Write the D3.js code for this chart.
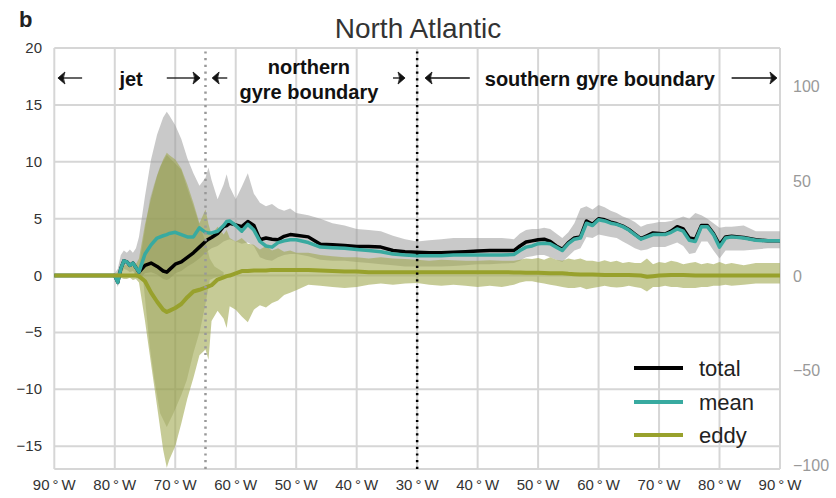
<!DOCTYPE html>
<html>
<head>
<meta charset="utf-8">
<script src="https://cdn.jsdelivr.net/npm/d3@7"></script>
<style>
body { margin: 0; background: #fff; }
text { font-family: "Liberation Sans", Arial, sans-serif; }
</style>
</head>
<body>
<div id="chart"></div>
<script>
// along-track position (0..120, ticks every 10)
var xs = [
  0, 9, 10, 10.5, 11, 11.5, 12, 12.5, 13, 13.5,
  14, 15, 16, 17, 18, 18.6, 19, 20, 21, 22,
  23, 24, 25, 25.5, 26, 27, 28, 28.5, 29, 30,
  31, 32, 33, 34, 35, 36, 37, 38, 39, 40,
  42, 44, 46, 48, 50, 52, 54, 56, 58, 60,
  62, 64, 66, 68, 70, 72, 74, 76, 77, 78,
  79, 80, 81, 82, 83, 84, 85, 86, 87, 88,
  89, 90, 91, 92, 93, 94, 95, 96, 97, 98,
  99, 100, 101, 102, 103, 104, 105, 106, 107, 108,
  109, 110, 111, 112, 114, 116, 118, 120
];
var total = [
  0, 0, 0, -0.6, 0.6, 1.3, 1.2, 0.9, 1.1, 0.7,
  0.3, 0.9, 1.1, 0.8, 0.4, 0.3, 0.5, 1.0, 1.2, 1.6,
  2.0, 2.5, 3.0, 3.2, 3.35, 3.7, 4.3, 4.4, 4.6, 4.45,
  4.3, 4.75, 4.4, 3.15, 3.3, 3.2, 3.15, 3.45, 3.6, 3.55,
  3.4, 2.75, 2.7, 2.65, 2.55, 2.55, 2.5, 2.2, 2.1, 2.05,
  2.0, 2.0, 2.05, 2.1, 2.15, 2.2, 2.2, 2.2, 2.6, 2.95,
  3.05, 3.15, 3.2, 3.0, 2.6, 2.3, 2.9, 3.3, 3.4, 4.8,
  4.5, 5.0, 4.9, 4.7, 4.55, 4.35, 4.05, 3.65, 3.25, 3.5,
  3.75, 3.7, 3.65, 3.9, 4.3, 4.1, 3.3, 3.2, 4.4, 4.4,
  3.7, 2.7, 3.4, 3.45, 3.35, 3.15, 3.05, 3.05
];
var mean = [
  0, 0, 0, -0.6, 0.6, 1.3, 1.2, 0.9, 1.1, 0.7,
  0.3, 1.9, 2.7, 3.3, 3.5, 3.6, 3.7, 3.8, 3.6, 3.4,
  3.4, 4.2, 3.8, 3.75, 3.75, 3.9, 4.4, 4.75, 4.8, 4.4,
  3.9, 4.5, 4.0, 3.0, 2.6, 2.5, 2.9, 3.05, 3.15, 3.15,
  2.9, 2.5, 2.45, 2.4, 2.3, 2.2, 2.1, 1.9, 1.8, 1.75,
  1.75, 1.75, 1.8, 1.8, 1.8, 1.8, 1.8, 1.85, 2.2, 2.5,
  2.6, 2.8, 2.85, 2.8, 2.5, 2.2, 2.8, 3.2, 3.3, 4.6,
  4.4, 4.9, 4.8, 4.6, 4.5, 4.3, 4.0, 3.6, 3.2, 3.4,
  3.6, 3.6, 3.6, 3.8, 4.1, 3.9, 3.1, 3.0, 4.3, 4.3,
  3.6, 2.5, 3.3, 3.4, 3.3, 3.1, 3.05, 3.05
];
var eddy = [
  0, 0, 0, 0, 0, 0, 0, 0, 0, 0,
  -0.05, -0.5, -1.5, -2.3, -3.0, -3.2, -3.1, -2.85, -2.5, -1.9,
  -1.4, -1.25, -1.05, -0.95, -0.85, -0.35, -0.15, -0.05, 0.0, 0.2,
  0.4, 0.4, 0.45, 0.45, 0.45, 0.5, 0.5, 0.5, 0.5, 0.5,
  0.5, 0.45, 0.4, 0.35, 0.35, 0.3, 0.3, 0.3, 0.3, 0.3,
  0.3, 0.3, 0.3, 0.3, 0.3, 0.3, 0.3, 0.28, 0.27, 0.25,
  0.25, 0.25, 0.22, 0.2, 0.2, 0.2, 0.15, 0.12, 0.1, 0.1,
  0.1, 0.08, 0.05, 0.05, 0.05, 0.05, 0.05, 0.03, 0.0, -0.1,
  -0.05, 0.0, 0.02, 0.05, 0.05, 0.05, 0.02, 0.0, 0.0, 0.0,
  0.0, 0.0, 0.0, 0.0, 0.0, 0.0, 0.0, 0.0
];
// spread of total (grey)
var totalHi = [
  0, 0, 0.2, 0.6, 1.8, 2.2, 2.0, 2.3, 2.0, 2.4,
  3.4, 7.0, 10.2, 12.4, 13.9, 14.4, 14.1, 13.2, 12.0, 10.3,
  9.0, 7.9, 8.6, 9.5, 8.4, 6.7, 8.0, 8.9, 7.8, 6.7,
  7.8, 9.0, 7.2, 6.4, 6.1, 6.3, 5.9, 5.7, 5.9, 5.5,
  5.3, 5.0, 4.6, 4.4, 4.1, 4.0, 3.9, 3.5, 3.2, 3.0,
  3.1, 3.2, 3.3, 3.3, 3.3, 3.3, 3.3, 3.2, 3.7, 4.0,
  4.1, 4.1, 4.2, 4.1, 3.7, 3.3, 3.8, 4.6, 5.9, 6.1,
  5.8, 6.2, 6.0, 5.7, 5.5, 5.2, 5.0, 4.7, 4.3, 4.5,
  4.6, 4.7, 4.7, 4.8, 5.0, 5.2, 5.0, 5.5, 5.3, 5.0,
  4.6, 4.2, 4.3, 4.3, 4.4, 3.9, 3.9, 3.9
];
var totalLo = [
  0, 0, -0.2, -1.0, 0, 0.6, 0.5, 0.3, 0.4, 0.1,
  -0.3, 0.2, 0.3, 0.1, -0.3, -0.4, -0.3, 0.2, 0.4, 0.8,
  1.1, 1.5, 2.0, 2.2, 2.4, 2.6, 3.0, 3.1, 3.2, 3.0,
  2.8, 2.9, 2.6, 1.6, 1.4, 1.3, 1.6, 1.8, 1.9, 1.9,
  1.7, 1.4, 1.3, 1.3, 1.2, 1.1, 1.0, 0.9, 0.8, 0.8,
  0.8, 0.8, 0.85, 0.9, 1.0, 1.0, 1.05, 1.1, 1.3, 1.6,
  1.7, 1.8, 1.8, 1.6, 1.4, 1.2, 1.7, 2.2, 2.4, 3.4,
  3.3, 3.6, 3.5, 3.4, 3.3, 3.0, 2.7, 2.4, 2.2, 2.3,
  2.5, 2.5, 2.5, 2.7, 2.9, 2.6, 1.9, 2.0, 3.0, 3.0,
  2.2, 1.5, 2.2, 2.2, 2.2, 2.3, 2.4, 2.4
];
// spread of eddy (light olive)
var eddyHi = [
  0, 0, 0.1, 0.3, 0.8, 1.0, 0.9, 1.1, 0.8, 1.0,
  1.5, 4.5, 6.8, 8.8, 10.2, 10.8, 10.6, 10.2, 9.4, 8.0,
  6.4, 4.6, 5.8, 4.5, 3.6, 4.3, 3.6, 4.0, 3.3, 3.0,
  3.3, 2.8, 2.7, 2.3, 2.6, 2.2, 2.4, 2.1, 2.2, 2.0,
  2.0, 1.8, 1.7, 1.6, 1.6, 1.5, 1.6, 1.5, 1.45, 1.4,
  1.3, 1.4, 1.35, 1.3, 1.3, 1.35, 1.3, 1.3, 1.4, 1.5,
  1.45, 1.55, 1.4, 1.6, 1.4, 1.3, 1.5, 1.4, 1.5, 1.3,
  1.3, 1.2, 1.35, 1.2, 1.3, 1.1, 1.2, 1.1, 1.1, 1.5,
  1.0, 1.2, 1.1, 1.3, 1.2, 1.0, 1.1, 1.2, 1.0, 1.1,
  1.0, 1.2, 1.0, 1.1, 0.9, 1.1, 1.1, 1.1
];
var eddyLo = [
  0, 0, -0.1, -0.3, -0.2, -0.3, -0.3, -0.2, -0.4, -0.3,
  -0.6, -4.0, -7.8, -11.5, -15.3, -16.9, -16.2, -15.0, -13.0, -10.8,
  -9.0, -7.0, -6.5, -7.4, -4.0, -3.1, -3.8, -4.6, -2.7, -3.0,
  -3.6, -4.1, -3.0, -2.6, -2.8, -2.4, -2.2, -1.7, -1.5, -1.3,
  -0.8, -0.9, -1.0, -1.1, -1.0, -0.8, -0.7, -0.8, -0.7, -0.65,
  -0.8, -0.9, -0.8, -0.9, -1.0, -0.9, -1.0, -0.8, -0.6, -0.5,
  -0.5, -0.6, -0.7, -0.8, -0.9, -1.0, -1.1, -1.1, -1.0, -1.2,
  -1.1, -1.0, -0.9, -1.0, -1.05, -1.0, -0.9, -1.0, -1.1, -1.4,
  -1.0, -1.0, -0.9, -1.0, -1.0, -1.1, -1.1, -1.1, -1.0, -1.0,
  -0.9, -0.9, -0.8, -0.9, -0.8, -0.7, -0.7, -0.7
];
// inner eddy spread (dark olive), jet region only
var innerX  = [13, 14, 14.7, 15.8, 16.5, 17.5, 18.6, 19.7, 21, 21.9, 23, 24.1, 25, 25.7, 26.5, 28];
var innerHi = [0, 0.8, 3.1, 6.7, 8.0, 9.6, 10.6, 10.0, 9.3, 7.8, 6.1, 4.3, 3.0, 1.5, 0.8, 0.3];
var innerLo = [0, -0.3, -0.4, -6.3, -9.0, -12.1, -13.3, -12.1, -10.5, -9.2, -6.8, -4.8, -2.5, -0.4, -0.2, 0];

var xTicks = [0, 10, 20, 30, 40, 50, 60, 70, 80, 90, 100, 110, 120];
var xTickLabels = ["90°W", "80°W", "70°W", "60°W", "50°W", "40°W", "30°W", "40°W", "50°W", "60°W", "70°W", "80°W", "90°W"];
var yTicks = [-15, -10, -5, 0, 5, 10, 15, 20];
var yRightTicks = [-100, -50, 0, 50, 100];

var regionNames = [["jet"], ["northern", "gyre boundary"], ["southern gyre boundary"]];
var regionMid = [12.7, 42.1, 90.2];
var arrowLeft = [[4.6, 0.6], [28.6, 26.1], [68.7, 61.3]];    // [tail, tip]
var arrowRight = [[18.6, 24.1], [56, 58], [112, 119.5]];
var boundaries = [25, 60];

var seriesNames = ["total", "mean", "eddy"];
var seriesColors = ["#000000", "#38aaa0", "#98a12c"];

var width = 836, height = 498;
var svg = d3.select("#chart").append("svg")
    .attr("width", width)
    .attr("height", height);

var x = d3.scaleLinear().domain([0, 120]).range([54.3, 780]);
var y = d3.scaleLinear().domain([-17, 20]).range([469, 48]);
var yR = d3.scaleLinear().domain([-102, 120]).range([469, 48]);

// grid
var grid = svg.append("g");
grid.selectAll(".vg").data(xTicks).enter().append("line")
    .attr("x1", d => x(d)).attr("x2", d => x(d))
    .attr("y1", y.range()[0]).attr("y2", y.range()[1])
    .style("stroke", "#d6d6d6").style("stroke-width", 2);
grid.selectAll(".hg").data(yTicks.concat([-17])).enter().append("line")
    .attr("x1", x.range()[0]).attr("x2", x.range()[1])
    .attr("y1", d => y(d)).attr("y2", d => y(d))
    .style("stroke", "#d6d6d6").style("stroke-width", 2);

// bands
function band(xArr, lo, hi) {
    return d3.area()
        .x((d, i) => x(xArr[i]))
        .y0((d, i) => y(lo[i]))
        .y1((d, i) => y(hi[i]))(xArr);
}
svg.append("path").attr("d", band(xs, totalLo, totalHi))
    .style("fill", "#9c9c9c").style("fill-opacity", 0.55);
svg.append("path").attr("d", band(xs, eddyLo, eddyHi))
    .style("fill", "#a0a850").style("fill-opacity", 0.6);
svg.append("path").attr("d", band(innerX, innerLo, innerHi))
    .style("fill", "#868e3e").style("fill-opacity", 0.3);

// lines
var seriesData = [total, mean, eddy];
var line = d3.line().x((d, i) => x(xs[i])).y(d => y(d));
seriesData.forEach(function(s, k) {
    svg.append("path").attr("d", line(s))
        .style("fill", "none")
        .style("stroke", seriesColors[k])
        .style("stroke-width", k == 2 ? 4 : 3.5)
        .style("stroke-linejoin", "round");
});

// region boundaries
svg.selectAll(".bd").data(boundaries).enter().append("line")
    .attr("x1", d => x(d)).attr("x2", d => x(d))
    .attr("y1", y.range()[0]).attr("y2", y.range()[1])
    .style("stroke", (d, i) => i == 0 ? "#999" : "#000")
    .style("stroke-width", 2.5)
    .style("stroke-dasharray", "2.2,4.5");

// axes labels
svg.selectAll(".xl").data(xTicks).enter().append("text")
    .attr("x", d => x(d)).attr("y", 490)
    .attr("text-anchor", "middle")
    .style("font-size", "15px").style("fill", "#333")
    .text((d, i) => xTickLabels[i].replace("°", "\u2009°\u2009"));
svg.selectAll(".yl").data(yTicks).enter().append("text")
    .attr("x", 42).attr("y", d => y(d) + 5)
    .attr("text-anchor", "end")
    .style("font-size", "15px").style("fill", "#333")
    .text(d => d3.format("d")(d));
svg.selectAll(".yr").data(yRightTicks).enter().append("text")
    .attr("x", 793).attr("y", d => yR(d) + 6)
    .style("font-size", "16px").style("fill", "#999")
    .text(d => d3.format("d")(d));

// title
svg.append("text").attr("x", 418).attr("y", 38)
    .attr("text-anchor", "middle")
    .style("font-size", "28px").style("fill", "#333")
    .text("North Atlantic");
svg.append("text").attr("x", 19).attr("y", 27)
    .style("font-size", "22px").style("font-weight", "bold").style("fill", "#222")
    .text("b");

// region annotations
var ay = 78;
function arrow(pair) {
    var x0 = x(pair[0]), x1 = x(pair[1]);
    var dir = x1 > x0 ? 1 : -1;
    svg.append("line").attr("x1", x0).attr("x2", x1 - dir * 3)
        .attr("y1", ay).attr("y2", ay)
        .style("stroke", "#111").style("stroke-width", 1.3);
    var b = x1 - dir * 7;
    svg.append("path")
        .attr("d", "M" + x1 + "," + ay + " L" + b + "," + (ay - 6) +
            " Q" + (x1 - dir * 4) + "," + ay + " " + b + "," + (ay + 6) + " Z")
        .style("fill", "#111").style("stroke", "#111").style("stroke-width", 0.8);
}
regionNames.forEach(function(lines, i) {
    var t = svg.append("text").attr("x", x(regionMid[i]))
        .attr("text-anchor", "middle")
        .style("font-size", "20px").style("font-weight", "bold").style("fill", "#111");
    if (lines.length == 1) {
        t.attr("y", 86).text(lines[0]);
    } else {
        t.attr("y", 74).text(lines[0]);
        svg.append("text").attr("x", x(regionMid[i])).attr("y", 99)
            .attr("text-anchor", "middle")
            .style("font-size", "20px").style("font-weight", "bold").style("fill", "#111")
            .text(lines[1]);
    }
    arrow(arrowLeft[i]);
    arrow(arrowRight[i]);
});

// legend
var legendY = [368, 402, 435];
seriesNames.forEach(function(name, k) {
    svg.append("line").attr("x1", 634).attr("x2", 683)
        .attr("y1", legendY[k]).attr("y2", legendY[k])
        .style("stroke", seriesColors[k]).style("stroke-width", 4);
    svg.append("text").attr("x", 699).attr("y", legendY[k] + 8)
        .style("font-size", "22px").style("fill", "#222")
        .text(name);
});
</script>
</body>
</html>
